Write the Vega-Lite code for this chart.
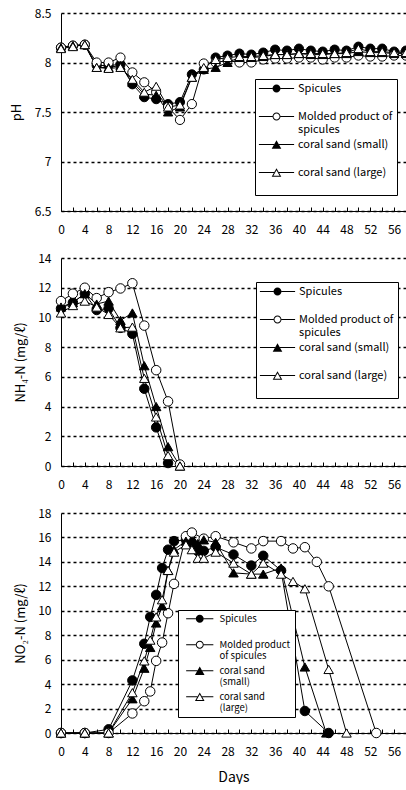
{
  "$schema": "https://vega.github.io/schema/vega-lite/v6.json",
  "padding": {"left": 10, "top": 7, "right": 0, "bottom": 0},
  "bounds": "flush",
  "spacing": 47,
  "config": {
    "font": "Noto Sans CJK JP",
    "view": {"stroke": null},
    "axis": {"labelFont": "Noto Sans CJK JP", "labelFontSize": 12, "labelColor": "black", "titleColor": "black", "titleFont": "Noto Sans CJK JP", "titleFontWeight": "normal", "titleFontSize": 13, "domainColor": "black", "domainWidth": 1, "tickColor": "black", "gridColor": "black", "gridDash": [3, 3], "gridWidth": 1.5, "gridOpacity": 1}
  },
  "resolve": {"scale": {"shape": "independent", "fill": "independent"}, "legend": {"shape": "independent", "fill": "independent"}},
  "datasets": {
    "ph": [
      {"day":0,"series":"Spicules","value":8.15},{"day":2,"series":"Spicules","value":8.17},{"day":4,"series":"Spicules","value":8.18},{"day":6,"series":"Spicules","value":7.97},{"day":8,"series":"Spicules","value":7.97},{"day":10,"series":"Spicules","value":7.98},{"day":12,"series":"Spicules","value":7.78},{"day":14,"series":"Spicules","value":7.65},{"day":16,"series":"Spicules","value":7.63},{"day":18,"series":"Spicules","value":7.58},{"day":20,"series":"Spicules","value":7.6},{"day":22,"series":"Spicules","value":7.88},{"day":24,"series":"Spicules","value":7.93},{"day":26,"series":"Spicules","value":8.05},{"day":28,"series":"Spicules","value":8.07},{"day":30,"series":"Spicules","value":8.09},{"day":32,"series":"Spicules","value":8.08},{"day":34,"series":"Spicules","value":8.1},{"day":36,"series":"Spicules","value":8.13},{"day":38,"series":"Spicules","value":8.12},{"day":40,"series":"Spicules","value":8.14},{"day":42,"series":"Spicules","value":8.12},{"day":44,"series":"Spicules","value":8.11},{"day":46,"series":"Spicules","value":8.13},{"day":48,"series":"Spicules","value":8.12},{"day":50,"series":"Spicules","value":8.16},{"day":52,"series":"Spicules","value":8.14},{"day":54,"series":"Spicules","value":8.14},{"day":56,"series":"Spicules","value":8.11},{"day":58,"series":"Spicules","value":8.12},
      {"day":0,"series":"Molded product of spicules","value":8.15},{"day":2,"series":"Molded product of spicules","value":8.17},{"day":4,"series":"Molded product of spicules","value":8.18},{"day":6,"series":"Molded product of spicules","value":8.0},{"day":8,"series":"Molded product of spicules","value":8.0},{"day":10,"series":"Molded product of spicules","value":8.05},{"day":12,"series":"Molded product of spicules","value":7.9},{"day":14,"series":"Molded product of spicules","value":7.8},{"day":16,"series":"Molded product of spicules","value":7.7},{"day":18,"series":"Molded product of spicules","value":7.55},{"day":20,"series":"Molded product of spicules","value":7.42},{"day":22,"series":"Molded product of spicules","value":7.58},{"day":24,"series":"Molded product of spicules","value":7.99},{"day":26,"series":"Molded product of spicules","value":8.0},{"day":28,"series":"Molded product of spicules","value":8.02},{"day":30,"series":"Molded product of spicules","value":8.0},{"day":32,"series":"Molded product of spicules","value":8.0},{"day":34,"series":"Molded product of spicules","value":8.03},{"day":36,"series":"Molded product of spicules","value":8.04},{"day":38,"series":"Molded product of spicules","value":8.04},{"day":40,"series":"Molded product of spicules","value":8.05},{"day":42,"series":"Molded product of spicules","value":8.05},{"day":44,"series":"Molded product of spicules","value":8.03},{"day":46,"series":"Molded product of spicules","value":8.05},{"day":48,"series":"Molded product of spicules","value":8.05},{"day":50,"series":"Molded product of spicules","value":8.07},{"day":52,"series":"Molded product of spicules","value":8.06},{"day":54,"series":"Molded product of spicules","value":8.06},{"day":56,"series":"Molded product of spicules","value":8.07},{"day":58,"series":"Molded product of spicules","value":8.07},
      {"day":0,"series":"coral sand (small)","value":8.15},{"day":2,"series":"coral sand (small)","value":8.17},{"day":4,"series":"coral sand (small)","value":8.18},{"day":6,"series":"coral sand (small)","value":7.95},{"day":8,"series":"coral sand (small)","value":7.95},{"day":10,"series":"coral sand (small)","value":7.97},{"day":12,"series":"coral sand (small)","value":7.8},{"day":14,"series":"coral sand (small)","value":7.68},{"day":16,"series":"coral sand (small)","value":7.67},{"day":18,"series":"coral sand (small)","value":7.5},{"day":20,"series":"coral sand (small)","value":7.55},{"day":22,"series":"coral sand (small)","value":7.85},{"day":24,"series":"coral sand (small)","value":7.93},{"day":26,"series":"coral sand (small)","value":7.95},{"day":28,"series":"coral sand (small)","value":8.0},{"day":30,"series":"coral sand (small)","value":8.05},{"day":32,"series":"coral sand (small)","value":8.05},{"day":34,"series":"coral sand (small)","value":8.06},{"day":36,"series":"coral sand (small)","value":8.08},{"day":38,"series":"coral sand (small)","value":8.08},{"day":40,"series":"coral sand (small)","value":8.09},{"day":42,"series":"coral sand (small)","value":8.08},{"day":44,"series":"coral sand (small)","value":8.08},{"day":46,"series":"coral sand (small)","value":8.09},{"day":48,"series":"coral sand (small)","value":8.09},{"day":50,"series":"coral sand (small)","value":8.11},{"day":52,"series":"coral sand (small)","value":8.1},{"day":54,"series":"coral sand (small)","value":8.1},{"day":56,"series":"coral sand (small)","value":8.09},{"day":58,"series":"coral sand (small)","value":8.09},
      {"day":0,"series":"coral sand (large)","value":8.14},{"day":2,"series":"coral sand (large)","value":8.16},{"day":4,"series":"coral sand (large)","value":8.18},{"day":6,"series":"coral sand (large)","value":7.95},{"day":8,"series":"coral sand (large)","value":7.94},{"day":10,"series":"coral sand (large)","value":7.95},{"day":12,"series":"coral sand (large)","value":7.83},{"day":14,"series":"coral sand (large)","value":7.7},{"day":16,"series":"coral sand (large)","value":7.76},{"day":18,"series":"coral sand (large)","value":7.55},{"day":20,"series":"coral sand (large)","value":7.57},{"day":22,"series":"coral sand (large)","value":7.85},{"day":24,"series":"coral sand (large)","value":7.95},{"day":26,"series":"coral sand (large)","value":8.03},{"day":28,"series":"coral sand (large)","value":8.05},{"day":30,"series":"coral sand (large)","value":8.06},{"day":32,"series":"coral sand (large)","value":8.06},{"day":34,"series":"coral sand (large)","value":8.07},{"day":36,"series":"coral sand (large)","value":8.08},{"day":38,"series":"coral sand (large)","value":8.08},{"day":40,"series":"coral sand (large)","value":8.09},{"day":42,"series":"coral sand (large)","value":8.09},{"day":44,"series":"coral sand (large)","value":8.09},{"day":46,"series":"coral sand (large)","value":8.09},{"day":48,"series":"coral sand (large)","value":8.1},{"day":50,"series":"coral sand (large)","value":8.14},{"day":52,"series":"coral sand (large)","value":8.11},{"day":54,"series":"coral sand (large)","value":8.11},{"day":56,"series":"coral sand (large)","value":8.1},{"day":58,"series":"coral sand (large)","value":8.1}
    ],
    "nh4": [
      {"day":0,"series":"Spicules","value":10.6},{"day":2,"series":"Spicules","value":11.0},{"day":4,"series":"Spicules","value":11.6},{"day":6,"series":"Spicules","value":10.5},{"day":8,"series":"Spicules","value":10.6},{"day":10,"series":"Spicules","value":9.3},{"day":12,"series":"Spicules","value":8.9},{"day":14,"series":"Spicules","value":5.2},{"day":16,"series":"Spicules","value":2.6},{"day":18,"series":"Spicules","value":0.2},
      {"day":0,"series":"Molded product of spicules","value":11.1},{"day":2,"series":"Molded product of spicules","value":11.6},{"day":4,"series":"Molded product of spicules","value":12.0},{"day":6,"series":"Molded product of spicules","value":11.3},{"day":8,"series":"Molded product of spicules","value":11.7},{"day":10,"series":"Molded product of spicules","value":11.95},{"day":12,"series":"Molded product of spicules","value":12.3},{"day":14,"series":"Molded product of spicules","value":9.45},{"day":16,"series":"Molded product of spicules","value":6.45},{"day":18,"series":"Molded product of spicules","value":4.35},{"day":20,"series":"Molded product of spicules","value":0.1},
      {"day":0,"series":"coral sand (small)","value":10.7},{"day":2,"series":"coral sand (small)","value":11.0},{"day":4,"series":"coral sand (small)","value":11.6},{"day":6,"series":"coral sand (small)","value":10.9},{"day":8,"series":"coral sand (small)","value":11.1},{"day":10,"series":"coral sand (small)","value":9.8},{"day":12,"series":"coral sand (small)","value":10.3},{"day":14,"series":"coral sand (small)","value":6.75},{"day":16,"series":"coral sand (small)","value":4.0},{"day":18,"series":"coral sand (small)","value":1.3},{"day":20,"series":"coral sand (small)","value":0},
      {"day":0,"series":"coral sand (large)","value":10.3},{"day":2,"series":"coral sand (large)","value":10.8},{"day":4,"series":"coral sand (large)","value":11.1},{"day":6,"series":"coral sand (large)","value":10.7},{"day":8,"series":"coral sand (large)","value":10.2},{"day":10,"series":"coral sand (large)","value":9.3},{"day":12,"series":"coral sand (large)","value":9.35},{"day":14,"series":"coral sand (large)","value":5.9},{"day":16,"series":"coral sand (large)","value":3.3},{"day":18,"series":"coral sand (large)","value":0.7},{"day":20,"series":"coral sand (large)","value":0}
    ],
    "no2": [
      {"day":0,"series":"Spicules","value":0},{"day":4,"series":"Spicules","value":0},{"day":8,"series":"Spicules","value":0.3},{"day":12,"series":"Spicules","value":4.3},{"day":14,"series":"Spicules","value":7.3},{"day":15,"series":"Spicules","value":9.5},{"day":16,"series":"Spicules","value":11.3},{"day":17,"series":"Spicules","value":13.5},{"day":18,"series":"Spicules","value":15.0},{"day":19,"series":"Spicules","value":15.7},{"day":21,"series":"Spicules","value":15.8},{"day":22,"series":"Spicules","value":15.6},{"day":23,"series":"Spicules","value":14.9},{"day":24,"series":"Spicules","value":14.9},{"day":26,"series":"Spicules","value":15.2},{"day":29,"series":"Spicules","value":14.6},{"day":32,"series":"Spicules","value":13.7},{"day":34,"series":"Spicules","value":14.5},{"day":37,"series":"Spicules","value":13.3},{"day":41,"series":"Spicules","value":1.8},{"day":45,"series":"Spicules","value":0},
      {"day":0,"series":"Molded product of spicules","value":0},{"day":4,"series":"Molded product of spicules","value":0},{"day":8,"series":"Molded product of spicules","value":0},{"day":12,"series":"Molded product of spicules","value":1.6},{"day":14,"series":"Molded product of spicules","value":2.6},{"day":15,"series":"Molded product of spicules","value":3.4},{"day":16,"series":"Molded product of spicules","value":5.9},{"day":17,"series":"Molded product of spicules","value":7.4},{"day":18,"series":"Molded product of spicules","value":9.8},{"day":19,"series":"Molded product of spicules","value":12.2},{"day":21,"series":"Molded product of spicules","value":16.1},{"day":22,"series":"Molded product of spicules","value":16.4},{"day":24,"series":"Molded product of spicules","value":15.9},{"day":26,"series":"Molded product of spicules","value":16.1},{"day":29,"series":"Molded product of spicules","value":15.6},{"day":32,"series":"Molded product of spicules","value":15.1},{"day":34,"series":"Molded product of spicules","value":15.7},{"day":37,"series":"Molded product of spicules","value":15.7},{"day":39,"series":"Molded product of spicules","value":15.1},{"day":41,"series":"Molded product of spicules","value":15.2},{"day":43,"series":"Molded product of spicules","value":14.0},{"day":45,"series":"Molded product of spicules","value":12.0},{"day":53,"series":"Molded product of spicules","value":0},
      {"day":0,"series":"coral sand (small)","value":0},{"day":4,"series":"coral sand (small)","value":0},{"day":8,"series":"coral sand (small)","value":0},{"day":12,"series":"coral sand (small)","value":2.8},{"day":14,"series":"coral sand (small)","value":5.3},{"day":15,"series":"coral sand (small)","value":7.0},{"day":16,"series":"coral sand (small)","value":9.0},{"day":17,"series":"coral sand (small)","value":10.4},{"day":18,"series":"coral sand (small)","value":13.3},{"day":19,"series":"coral sand (small)","value":15.0},{"day":21,"series":"coral sand (small)","value":15.7},{"day":22,"series":"coral sand (small)","value":15.6},{"day":23,"series":"coral sand (small)","value":15.5},{"day":24,"series":"coral sand (small)","value":15.8},{"day":26,"series":"coral sand (small)","value":15.6},{"day":29,"series":"coral sand (small)","value":13.1},{"day":32,"series":"coral sand (small)","value":13.0},{"day":34,"series":"coral sand (small)","value":13.0},{"day":37,"series":"coral sand (small)","value":13.5},{"day":41,"series":"coral sand (small)","value":5.4},{"day":44.6,"series":"coral sand (small)","value":0},
      {"day":0,"series":"coral sand (large)","value":0},{"day":4,"series":"coral sand (large)","value":0},{"day":8,"series":"coral sand (large)","value":0},{"day":12,"series":"coral sand (large)","value":3.3},{"day":14,"series":"coral sand (large)","value":5.9},{"day":15,"series":"coral sand (large)","value":7.6},{"day":16,"series":"coral sand (large)","value":9.5},{"day":17,"series":"coral sand (large)","value":10.9},{"day":18,"series":"coral sand (large)","value":13.3},{"day":19,"series":"coral sand (large)","value":14.8},{"day":21,"series":"coral sand (large)","value":15.4},{"day":22,"series":"coral sand (large)","value":15.0},{"day":23,"series":"coral sand (large)","value":14.3},{"day":24,"series":"coral sand (large)","value":14.3},{"day":26,"series":"coral sand (large)","value":14.8},{"day":29,"series":"coral sand (large)","value":13.9},{"day":32,"series":"coral sand (large)","value":13.0},{"day":34,"series":"coral sand (large)","value":13.9},{"day":37,"series":"coral sand (large)","value":13.0},{"day":39,"series":"coral sand (large)","value":12.4},{"day":41,"series":"coral sand (large)","value":11.8},{"day":45,"series":"coral sand (large)","value":5.2},{"day":48,"series":"coral sand (large)","value":0}
    ]
  },
  "vconcat": [
    {
      "width": 345, "height": 198,
      "data": {"name": "ph"},
      "resolve": {"scale": {"shape": "independent"}, "legend": {"shape": "independent"}},
      "encoding": {
        "x": {"field": "day", "type": "quantitative", "scale": {"domain": [0, 58], "nice": false, "zero": false},
          "axis": {"title": null, "values": [0,2,4,6,8,10,12,14,16,18,20,22,24,26,28,30,32,34,36,38,40,42,44,46,48,50,52,54,56,58], "labelExpr": "datum.value % 4 == 0 && datum.value <= 56 ? datum.label : ''", "tickSize": -4, "labelPadding": 17, "labelFlush": false, "labelOverlap": false, "grid": false}},
        "y": {"field": "value", "type": "quantitative", "scale": {"domain": [6.5, 8.5], "nice": false, "zero": false},
          "axis": {"title": "pH", "values": [6.5, 7, 7.5, 8, 8.5], "format": "~g", "ticks": false, "labelPadding": 10, "titlePadding": 11, "grid": true}}
      },
      "layer": [
        {"mark": {"type": "line", "color": "black", "strokeWidth": 1}, "encoding": {"detail": {"field": "series"}}},
        {"mark": {"type": "point", "filled": true, "stroke": "black", "strokeWidth": 1, "size": 85, "opacity": 1},
          "encoding": {
            "shape": {"field": "series", "scale": {"domain": ["Spicules","Molded product of spicules","coral sand (small)","coral sand (large)"], "range": ["circle","circle","triangle-up","triangle-up"]}, "legend": null},
            "fill": {"field": "series", "scale": {"domain": ["Spicules","Molded product of spicules","coral sand (small)","coral sand (large)"], "range": ["black","white","black","white"]}, "legend": null}
          }},
        {"transform": [{"filter": "false"}],
          "mark": {"type": "point", "filled": true, "color": "black", "opacity": 1},
          "encoding": {
            "shape": {"field": "series", "scale": {"domain": ["Spicules","Molded product of spicules","coral sand (small)","coral sand (large)"], "range": [
              "M-4.4,-0.125L-1,-0.125L-1,0.125L-4.4,0.125ZM1,-0.125L4.4,-0.125L4.4,0.125L1,0.125ZM1,0A1,1,0,1,1,-1,0A1,1,0,1,1,1,0Z",
              "M-4.4,-0.125L-1,-0.125L-1,0.125L-4.4,0.125ZM1,-0.125L4.4,-0.125L4.4,0.125L1,0.125ZM1,0A1,1,0,1,1,-1,0A1,1,0,1,1,1,0ZM0.75,0A0.75,0.75,0,1,0,-0.75,0A0.75,0.75,0,1,0,0.75,0Z",
              "M-4.4,-0.125L-0.6,-0.125L-0.6,0.125L-4.4,0.125ZM0.6,-0.125L4.4,-0.125L4.4,0.125L0.6,0.125ZM0,-1.04L1.2,1.04L-1.2,1.04Z",
              "M-4.4,-0.125L-0.6,-0.125L-0.6,0.125L-4.4,0.125ZM0.6,-0.125L4.4,-0.125L4.4,0.125L0.6,0.125ZM0,-1.04L1.2,1.04L-1.2,1.04ZM0,-0.54L-0.77,0.79L0.77,0.79Z"]},
              "legend": {"orient": "none", "legendX": 194, "legendY": 66, "title": null, "strokeColor": "black", "fillColor": "white", "padding": 4, "symbolSize": 64, "symbolStrokeWidth": 0, "symbolFillColor": "black", "symbolOffset": 12, "labelOffset": 16, "labelFontSize": 11, "labelColor": "black", "labelBaseline": "middle", "rowPadding": 3, "gridAlign": "all", "labelExpr": "datum.value == 'Molded product of spicules' ? ['Molded product of', 'spicules'] : [datum.label, '']"}}
          }}
      ]
    },
    {
      "width": 345, "height": 208,
      "data": {"name": "nh4"},
      "resolve": {"scale": {"shape": "independent"}, "legend": {"shape": "independent"}},
      "encoding": {
        "x": {"field": "day", "type": "quantitative", "scale": {"domain": [0, 58], "nice": false, "zero": false},
          "axis": {"title": null, "values": [0,2,4,6,8,10,12,14,16,18,20,22,24,26,28,30,32,34,36,38,40,42,44,46,48,50,52,54,56,58], "labelExpr": "datum.value % 4 == 0 && datum.value <= 56 ? datum.label : ''", "tickSize": -4, "labelPadding": 17, "labelFlush": false, "labelOverlap": false, "grid": false}},
        "y": {"field": "value", "type": "quantitative", "scale": {"domain": [0, 14], "nice": false},
          "axis": {"title": "NH₄-N (mg/ℓ)", "values": [0,2,4,6,8,10,12,14], "ticks": false, "labelPadding": 10, "titlePadding": 10, "grid": true}}
      },
      "layer": [
        {"mark": {"type": "line", "color": "black", "strokeWidth": 1}, "encoding": {"detail": {"field": "series"}}},
        {"mark": {"type": "point", "filled": true, "stroke": "black", "strokeWidth": 1, "size": 90, "opacity": 1},
          "encoding": {
            "shape": {"field": "series", "scale": {"domain": ["Spicules","Molded product of spicules","coral sand (small)","coral sand (large)"], "range": ["circle","circle","triangle-up","triangle-up"]}, "legend": null},
            "fill": {"field": "series", "scale": {"domain": ["Spicules","Molded product of spicules","coral sand (small)","coral sand (large)"], "range": ["black","white","black","white"]}, "legend": null}
          }},
        {"transform": [{"filter": "false"}],
          "mark": {"type": "point", "filled": true, "color": "black", "opacity": 1},
          "encoding": {
            "shape": {"field": "series", "scale": {"domain": ["Spicules","Molded product of spicules","coral sand (small)","coral sand (large)"], "range": [
              "M-4.4,-0.125L-1,-0.125L-1,0.125L-4.4,0.125ZM1,-0.125L4.4,-0.125L4.4,0.125L1,0.125ZM1,0A1,1,0,1,1,-1,0A1,1,0,1,1,1,0Z",
              "M-4.4,-0.125L-1,-0.125L-1,0.125L-4.4,0.125ZM1,-0.125L4.4,-0.125L4.4,0.125L1,0.125ZM1,0A1,1,0,1,1,-1,0A1,1,0,1,1,1,0ZM0.75,0A0.75,0.75,0,1,0,-0.75,0A0.75,0.75,0,1,0,0.75,0Z",
              "M-4.4,-0.125L-0.6,-0.125L-0.6,0.125L-4.4,0.125ZM0.6,-0.125L4.4,-0.125L4.4,0.125L0.6,0.125ZM0,-1.04L1.2,1.04L-1.2,1.04Z",
              "M-4.4,-0.125L-0.6,-0.125L-0.6,0.125L-4.4,0.125ZM0.6,-0.125L4.4,-0.125L4.4,0.125L0.6,0.125ZM0,-1.04L1.2,1.04L-1.2,1.04ZM0,-0.54L-0.77,0.79L0.77,0.79Z"]},
              "legend": {"orient": "none", "legendX": 195, "legendY": 24, "title": null, "strokeColor": "black", "fillColor": "white", "padding": 4, "symbolSize": 64, "symbolStrokeWidth": 0, "symbolFillColor": "black", "symbolOffset": 12, "labelOffset": 16, "labelFontSize": 11, "labelColor": "black", "labelBaseline": "middle", "rowPadding": 3, "gridAlign": "all", "labelExpr": "datum.value == 'Molded product of spicules' ? ['Molded product of', 'spicules'] : [datum.label, '']"}}
          }}
      ]
    },
    {
      "width": 345, "height": 220,
      "data": {"name": "no2"},
      "resolve": {"scale": {"shape": "independent"}, "legend": {"shape": "independent"}},
      "encoding": {
        "x": {"field": "day", "type": "quantitative", "scale": {"domain": [0, 58], "nice": false, "zero": false},
          "axis": {"title": "Days", "titleFontSize": 14, "titlePadding": 13, "values": [0,2,4,6,8,10,12,14,16,18,20,22,24,26,28,30,32,34,36,38,40,42,44,46,48,50,52,54,56,58], "labelExpr": "datum.value % 4 == 0 && datum.value <= 56 ? datum.label : ''", "tickSize": -4, "labelPadding": 17, "labelFlush": false, "labelOverlap": false, "grid": false}},
        "y": {"field": "value", "type": "quantitative", "scale": {"domain": [0, 18], "nice": false},
          "axis": {"title": "NO₂-N (mg/ℓ)", "values": [0,2,4,6,8,10,12,14,16,18], "ticks": false, "labelPadding": 10, "titlePadding": 10, "grid": true}}
      },
      "layer": [
        {"mark": {"type": "line", "color": "black", "strokeWidth": 1}, "encoding": {"detail": {"field": "series"}}},
        {"mark": {"type": "point", "filled": true, "stroke": "black", "strokeWidth": 1, "size": 90, "opacity": 1},
          "encoding": {
            "shape": {"field": "series", "scale": {"domain": ["Spicules","Molded product of spicules","coral sand (small)","coral sand (large)"], "range": ["circle","circle","triangle-up","triangle-up"]}, "legend": null},
            "fill": {"field": "series", "scale": {"domain": ["Spicules","Molded product of spicules","coral sand (small)","coral sand (large)"], "range": ["black","white","black","white"]}, "legend": null}
          }},
        {"transform": [{"filter": "false"}],
          "mark": {"type": "point", "filled": true, "color": "black", "opacity": 1},
          "encoding": {
            "shape": {"field": "series", "scale": {"domain": ["Spicules","Molded product of spicules","coral sand (small)","coral sand (large)"], "range": [
              "M-3.4,-0.125L-1,-0.125L-1,0.125L-3.4,0.125ZM1,-0.125L3.4,-0.125L3.4,0.125L1,0.125ZM1,0A1,1,0,1,1,-1,0A1,1,0,1,1,1,0Z",
              "M-3.4,-0.125L-1,-0.125L-1,0.125L-3.4,0.125ZM1,-0.125L3.4,-0.125L3.4,0.125L1,0.125ZM1,0A1,1,0,1,1,-1,0A1,1,0,1,1,1,0ZM0.75,0A0.75,0.75,0,1,0,-0.75,0A0.75,0.75,0,1,0,0.75,0Z",
              "M-3.4,-0.125L-0.6,-0.125L-0.6,0.125L-3.4,0.125ZM0.6,-0.125L3.4,-0.125L3.4,0.125L0.6,0.125ZM0,-1.04L1.2,1.04L-1.2,1.04Z",
              "M-3.4,-0.125L-0.6,-0.125L-0.6,0.125L-3.4,0.125ZM0.6,-0.125L3.4,-0.125L3.4,0.125L0.6,0.125ZM0,-1.04L1.2,1.04L-1.2,1.04ZM0,-0.54L-0.77,0.79L0.77,0.79Z"]},
              "legend": {"orient": "none", "legendX": 117, "legendY": 97, "title": null, "strokeColor": "black", "fillColor": "white", "padding": 4, "symbolSize": 64, "symbolStrokeWidth": 0, "symbolFillColor": "black", "symbolOffset": 13, "labelOffset": 15, "labelFontSize": 9.5, "labelColor": "black", "labelBaseline": "middle", "rowPadding": 4, "gridAlign": "all", "labelExpr": "datum.value == 'Spicules' ? ['Spicules', ''] : datum.value == 'Molded product of spicules' ? ['Molded product', 'of spicules'] : datum.value == 'coral sand (small)' ? ['coral sand', '(small)'] : ['coral sand', '(large)']"}}
          }}
      ]
    }
  ]
}
